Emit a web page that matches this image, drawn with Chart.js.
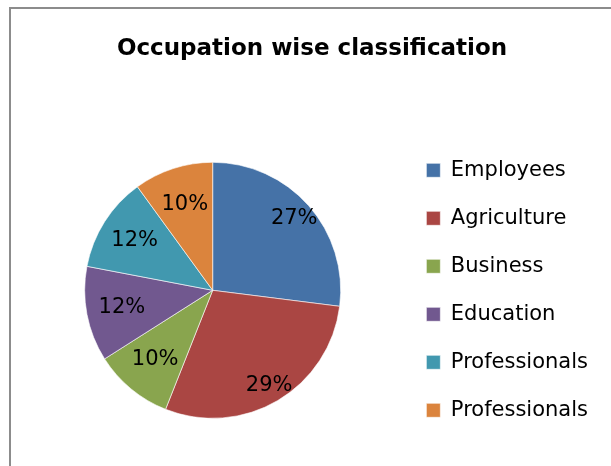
<!DOCTYPE html>
<html>
<head>
<meta charset="utf-8">
<script src="https://cdn.jsdelivr.net/npm/chart.js@4.4.1/dist/chart.umd.min.js"></script>
<style>
    html, body { margin: 0; padding: 0; background: #fff; overflow: hidden; }
    body { width: 611px; height: 466px; position: relative; }
    #frame {
        position: absolute; left: 9px; top: 7px; width: 700px; height: 500px;
        border-left: 2px solid #8c8c8c; border-top: 2px solid #8c8c8c;
    }
    #wrap { position: absolute; left: 10px; top: 8px; width: 610px; height: 458px; }
</style>
</head>
<body>
<div id="frame"></div>
<div id="wrap"><canvas id="pieChart" width="610" height="458"></canvas></div>
<script>
const chartTitle = 'Occupation wise classification';
const occupations = ['Employees', 'Agriculture', 'Business', 'Education', 'Professionals', 'Professionals'];
const shares = [27, 29, 10, 12, 12, 10];
const sliceColors = ['#4572A7', '#AA4643', '#89A54E', '#71588F', '#4198AF', '#DB843D'];

const FONT = '"DejaVu Sans", sans-serif';

// Percent labels drawn inside each slice (bigger slices put the label further out)
const sliceLabels = {
    id: 'sliceLabels',
    afterDatasetsDraw(chart) {
        const ctx = chart.ctx;
        const meta = chart.getDatasetMeta(0);
        ctx.save();
        ctx.font = '21px ' + FONT;
        ctx.fillStyle = '#000';
        ctx.textAlign = 'center';
        ctx.textBaseline = 'middle';
        meta.data.forEach((arc, i) => {
            const p = arc.getProps(['x', 'y', 'startAngle', 'endAngle', 'outerRadius'], true);
            const mid = (p.startAngle + p.endAngle) / 2;
            const span = (p.endAngle - p.startAngle) / (2 * Math.PI);
            const r = p.outerRadius * (0.62 + 0.85 * span);
            ctx.fillText(shares[i] + '%', p.x + Math.cos(mid) * r, p.y + Math.sin(mid) * r);
        });
        ctx.restore();
    }
};

const ctx = document.getElementById('pieChart').getContext('2d');
new Chart(ctx, {
    type: 'pie',
    data: {
        labels: occupations,
        datasets: [{
            data: shares,
            backgroundColor: sliceColors,
            borderColor: 'rgba(255,255,255,0.6)',
            borderWidth: 1,
            radius: 128
        }]
    },
    options: {
        responsive: false,
        animation: false,
        layout: { padding: { left: 16, right: 22, top: 0, bottom: 8 } },
        plugins: {
            title: {
                display: true,
                text: chartTitle,
                color: '#000',
                font: { family: FONT, size: 23, weight: 'bold' },
                padding: { top: 27, bottom: 60 }
            },
            legend: {
                position: 'right',
                align: 'center',
                fullSize: false,
                labels: {
                    boxWidth: 14,
                    boxHeight: 14,
                    padding: 27,
                    color: '#000',
                    font: { family: FONT, size: 21 }
                }
            },
            tooltip: { enabled: false }
        }
    },
    plugins: [sliceLabels]
});
</script>
</body>
</html>
